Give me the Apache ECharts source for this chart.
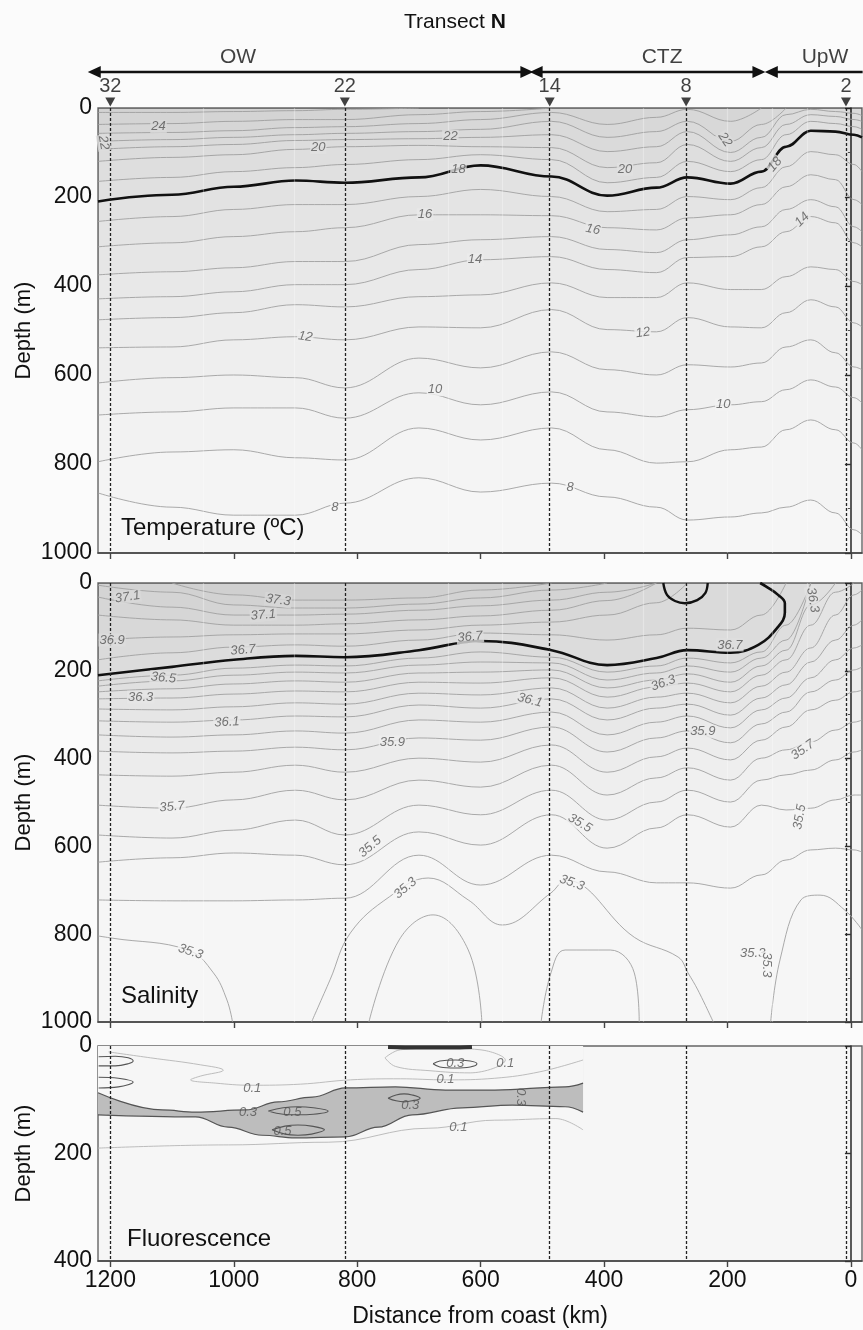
<!DOCTYPE html>
<html>
<head>
<meta charset="utf-8">
<title>Transect N</title>
<script src="https://cdn.jsdelivr.net/npm/echarts@6/dist/echarts.min.js"></script>
<style>
  html, body { margin: 0; padding: 0; background: #fbfbfb; }
  #chart { width: 863px; height: 1330px; }
</style>
</head>
<body>
<div id="chart"></div>
<script>
// ---- shared x columns (distance from coast, km) ----
const distKm = [1220, 1100, 1000, 900, 820, 700, 600, 485, 395, 315, 265, 195, 145, 105, 65, 25, -5, -18];
const distTicks = [0, 200, 400, 600, 800, 1000, 1200];

// stations, intermediate casts and water-mass zones along the transect
const stationKm = [1200, 820, 488, 267, 8];
const stationName = ['32', '22', '14', '8', '2'];
const castKm = [1049, 902, 653, 565, 337, 201, 128, 70];
const zoneName = ['OW', 'CTZ', 'UpW'];
const zoneFrom = [1226, 510, 129];
const zoneTo = [525, 149, -19];
const zoneLabelKm = [993, 306, 42];

// ---- temperature isotherms, depth (m) at distKm ----
const t8 = [865, 897, 915, 915, 888, 831, 863, 843, 874, 897, 926, 919, 910, 897, 881, 910, 948, 959];
const t9 = [795, 773, 768, 786, 791, 719, 746, 719, 768, 798, 795, 768, 762, 723, 701, 723, 753, 768];
const t10 = [690, 683, 674, 674, 697, 640, 667, 638, 683, 694, 678, 667, 660, 633, 611, 627, 651, 663];
const t11 = [618, 606, 600, 606, 629, 562, 584, 548, 588, 600, 577, 582, 573, 537, 521, 550, 582, 588];
const t12 = [539, 537, 521, 514, 521, 492, 494, 453, 498, 503, 471, 492, 494, 460, 431, 447, 483, 492];
const t13 = [476, 471, 460, 442, 447, 424, 420, 393, 426, 426, 393, 408, 408, 379, 357, 363, 390, 397];
const t14 = [429, 424, 413, 397, 397, 363, 341, 334, 363, 370, 336, 334, 312, 278, 244, 258, 303, 312];
const t15 = [375, 368, 359, 345, 345, 307, 296, 289, 318, 325, 296, 285, 267, 228, 206, 222, 267, 278];
const t16 = [312, 303, 289, 278, 269, 240, 240, 242, 269, 274, 247, 240, 217, 177, 150, 161, 206, 217];
const t17 = [255, 244, 228, 217, 217, 199, 183, 199, 233, 228, 199, 206, 179, 132, 98, 105, 127, 143];
const t18 = [210, 195, 177, 163, 168, 156, 129, 154, 197, 179, 156, 170, 143, 87, 51, 53, 60, 66];
const t19 = [165, 156, 143, 134, 127, 116, 105, 116, 168, 156, 120, 143, 116, 60, 30, 35, 42, 48];
const t20 = [120, 111, 105, 93, 87, 84, 87, 89, 134, 123, 82, 120, 89, 37, 15, 19, 26, 30];
const t21 = [93, 87, 82, 73, 71, 69, 66, 60, 98, 87, 53, 100, 66, 15, 3, 8, 12, 17];
const t22 = [75, 71, 66, 60, 57, 53, 48, 30, 66, 53, 30, 75, 37, 0];
const t23 = [57, 55, 51, 44, 42, 35, 26, 10, 37, 21, 3, 30, 0];
const t24 = [37, 35, 30, 26, 26, 15, 8, 0];
const t25 = [10, 10, 8, 6, 3, 0];

const tempLabelKm = [1122, 1211, 863, 649, 636, 366, 204, 123, 690, 418, 609, 79, 884, 337, 674, 207, 836, 455];
const tempLabelDepth = [42, 78, 89, 64, 138, 138, 71, 127, 240, 273, 341, 251, 514, 505, 633, 667, 897, 852];
const tempLabelText = ['24', '22', '20', '22', '18', '20', '22', '18', '16', '16', '14', '14', '12', '12', '10', '10', '8', '8'];
const tempLabelRot = [0, -80, 0, 0, 0, 0, -55, 50, 0, -12, 0, 45, -8, 8, 0, 0, 0, 0];

// ---- salinity isohalines, depth (m) at distKm ----
const s354 = [722, 724, 724, 722, 718, 620, 688, 620, 658, 683, 683, 695, 665, 631, 608, 604, 608, 613];
const s355 = [636, 626, 615, 620, 642, 567, 597, 528, 604, 558, 528, 556, 506, 517, 513, 494, 483, 483];
const s356 = [574, 581, 563, 540, 574, 506, 528, 472, 540, 499, 472, 499, 449, 437, 426, 403, 385, 380];
const s357 = [506, 513, 494, 472, 494, 449, 465, 415, 483, 444, 421, 449, 399, 380, 362, 335, 317, 312];
const s358 = [437, 440, 431, 415, 431, 399, 408, 369, 431, 396, 376, 403, 358, 328, 289, 267, 248, 244];
const s359 = [383, 387, 383, 374, 380, 353, 358, 328, 385, 353, 337, 364, 321, 294, 248, 221, 198, 191];
const s360 = [346, 351, 346, 337, 342, 312, 317, 294, 346, 317, 303, 330, 289, 262, 216, 175, 148, 141];
const s361 = [314, 317, 312, 303, 305, 278, 285, 264, 312, 285, 276, 301, 262, 232, 180, 130, 96, 84];
const s362 = [287, 289, 282, 273, 276, 251, 255, 239, 285, 260, 251, 273, 235, 203, 148, 73, 27, 16];
const s363 = [264, 262, 253, 246, 248, 226, 228, 216, 260, 237, 228, 248, 210, 175, 96, 21, 0];
const s364 = [248, 241, 230, 223, 226, 205, 203, 198, 239, 221, 207, 226, 189, 153, 50, 0];
const s365 = [235, 223, 210, 203, 205, 187, 180, 182, 221, 205, 189, 203, 171, 130, 0];
const s366 = [223, 210, 194, 187, 189, 171, 157, 169, 203, 189, 171, 182, 157, 96, 0];
const s368 = [175, 159, 146, 141, 144, 130, 114, 118, 130, 118, 103, 107, 73, 0];
const s369 = [130, 123, 118, 116, 116, 107, 96, 89, 73, 45, 0];
const s370 = [73, 84, 96, 96, 93, 84, 75, 62, 40, 0];
const s371 = [32, 55, 73, 73, 71, 62, 52, 39, 21, 0];
const s372 = [5, 21, 50, 57, 57, 48, 34, 16, 0];
const s373 = [null, 0, 27, 39, 39, 34, 16, 0];

// 36.7 front (with its hook in the upwelling zone) and the small surface ring
const salFrontKm = [1220, 1100, 1000, 900, 820, 700, 600, 485, 395, 315, 265, 195, 150, 118, 107, 107, 118, 134, 147];
const salFrontDepth = [210, 191, 175, 166, 169, 153, 132, 153, 187, 171, 153, 159, 141, 100, 68, 46, 27, 11, 0];
const ringKm = [304, 298, 285, 269, 249, 236, 232];
const ringDepth = [0, 27, 41, 46, 39, 23, 0];

// deep 35.3 / 35.2 pieces
const s353aKm = [1220, 1197, 1074, 1033, 1011, 1002];
const s353aDepth = [804, 809, 836, 888, 950, 1000];
const s353bKm = [874, 844, 811, 748, 685, 620, 565, 486, 462, 351, 280, 264, 248, 223];
const s353bDepth = [1000, 904, 797, 715, 672, 722, 779, 706, 677, 807, 852, 888, 927, 1000];
const s353cKm = [130, 115, 81, 50, 10, -18];
const s353cDepth = [1000, 859, 722, 711, 745, 790];
const s352aKm = [781, 732, 677, 620, 598];
const s352aDepth = [1000, 813, 756, 836, 1000];
const s352bKm = [502, 486, 463, 390, 351, 343];
const s352bDepth = [1000, 888, 836, 836, 888, 1000];

const salLabelKm = [1172, 928, 952, 1197, 985, 1114, 1151, 1011, 743, 1100, 779, 722, 1070, 617, 520, 304, 240, 78, 439, 83, 452, 196, 62, 159, 136];
const salLabelDepth = [32, 39, 73, 130, 153, 216, 260, 317, 362, 510, 601, 695, 840, 123, 267, 228, 339, 380, 547, 533, 683, 141, 39, 843, 870];
const salLabelText = ['37.1', '37.3', '37.1', '36.9', '36.7', '36.5', '36.3', '36.1', '35.9', '35.7', '35.5', '35.3', '35.3', '36.7', '36.1', '36.3', '35.9', '35.7', '35.5', '35.5', '35.3', '36.7', '36.3', '35.3', '35.3'];
const salLabelRot = [8, -8, 5, 0, 5, -5, 0, 3, 0, 5, 40, 40, -18, 5, -15, 20, 0, 35, -30, 80, -20, 0, -80, 0, -90];

// ---- fluorescence ----
const fl03TopKm = [1220, 1116, 1062, 981, 928, 873, 819, 738, 657, 577, 463, 434];
const fl03TopDepth = [87, 119, 123, 119, 104, 95, 78, 76, 82, 82, 76, 69];
const fl03BotKm = [1220, 1062, 1009, 954, 900, 819, 766, 711, 630, 549, 463, 434];
const fl03BotDepth = [128, 132, 151, 166, 171, 169, 151, 128, 115, 110, 113, 123];
const fl01LowKm = [1220, 1009, 847, 685, 577, 478, 434];
const fl01LowDepth = [190, 184, 179, 153, 138, 135, 156];
const fl01UpKm = [1203, 1135, 1054, 1017, 1054, 1070, 1030, 973, 892, 811, 730, 657, 577, 504, 434];
const fl01UpDepth = [11, 22, 35, 45, 56, 63, 69, 73, 71, 63, 61, 63, 60, 48, 26];
const fl01LoopKm = [755, 730, 666, 601, 560, 617, 682, 738, 755];
const fl01LoopDepth = [22, 7, 4, 7, 26, 50, 46, 38, 22];
const fl03LoopAKm = [677, 666, 641, 617, 606, 617, 641, 666, 677];
const fl03LoopADepth = [33, 28, 26, 28, 33, 39, 41, 39, 33];
const fl03LoopBKm = [750, 737, 724, 711, 698, 711, 724, 737, 750];
const fl03LoopBDepth = [97, 91, 89, 91, 97, 102, 104, 102, 97];
const fl03EdgeAKm = [1219, 1192, 1171, 1163, 1171, 1192, 1219];
const fl03EdgeADepth = [20, 19, 22, 28, 33, 37, 37];
const fl03EdgeBKm = [1219, 1187, 1163, 1187, 1219];
const fl03EdgeBDepth = [58, 60, 67, 76, 78];
const fl05LoopAKm = [944, 920, 896, 871, 847, 871, 896, 920, 944];
const fl05LoopADepth = [121, 115, 113, 115, 121, 127, 128, 127, 121];
const fl05LoopBKm = [938, 917, 896, 874, 853, 874, 896, 917, 938];
const fl05LoopBDepth = [156, 149, 147, 149, 156, 164, 166, 164, 156];
const flSurfaceKm = [750, 700, 650, 614];
const flSurfaceDepth = [2, 3, 3, 2];

const fluoLabelKm = [970, 657, 560, 636, 977, 714, 641, 536, 905, 921];
const fluoLabelDepth = [78, 63, 32, 151, 123, 110, 33, 95, 123, 158];
const fluoLabelText = ['0.1', '0.1', '0.1', '0.1', '0.3', '0.3', '0.3', '0.3', '0.5', '0.5'];
const fluoLabelRot = [0, 0, 0, 0, 0, 0, 0, -90, 0, 0];

// ---------------------------------------------------------------
const FONT = "'Liberation Sans', Arial, sans-serif";
const BG_LEVEL = 246;
const BG = 'rgb(246,246,246)';
const ISO = '#a0a0a0';
const SHADE_ALPHA = 0.0075;
const SHADE = { color: '#000', opacity: SHADE_ALPHA, origin: 'start' };

const tempSet = [t8, t9, t10, t11, t12, t13, t14, t15, t16, t17, t18, t19, t20, t21, t22, t23, t24, t25];
const salSet = [s354, s355, s356, s357, s358, s359, s360, s361, s362, s363, s364, s365, s366, s368, s369, s370, s371, s372, s373];

function pairs(km, depth) {
  const out = [];
  for (let i = 0; i < depth.length; i++) {
    if (depth[i] == null) continue;
    out.push([km[i], depth[i]]);
  }
  return out;
}

// depth of a contour (given on distKm) at an arbitrary distance, or null outside its span
function depthAt(arr, km) {
  for (let i = 0; i < arr.length - 1; i++) {
    const a = distKm[i], b = distKm[i + 1];
    if (arr[i] == null || arr[i + 1] == null) continue;
    if (km <= a && km >= b) {
      const f = (a - km) / (a - b);
      return arr[i] + f * (arr[i + 1] - arr[i]);
    }
  }
  return null;
}

// local background grey under a label, so the label cuts its line like the original
function shadeUnder(set, km, depth) {
  let n = 0;
  if (set) {
    set.forEach(arr => {
      const d = depthAt(arr, km);
      if (d != null && d > depth + 4) n++;
    });
  }
  const g = Math.round(BG_LEVEL * Math.pow(1 - SHADE_ALPHA, n));
  return 'rgb(' + g + ',' + g + ',' + g + ')';
}

function contour(grid, km, depth, opts) {
  opts = opts || {};
  const s = {
    type: 'line',
    xAxisIndex: grid,
    yAxisIndex: grid,
    data: pairs(km, depth),
    smooth: opts.smooth == null ? 0.4 : opts.smooth,
    symbol: 'none',
    silent: true,
    lineStyle: { color: opts.color || ISO, width: opts.width || 0.9 },
    z: opts.z || 2
  };
  if (!opts.loop) s.smoothMonotone = 'x';
  if (opts.area) s.areaStyle = opts.area;
  return s;
}

function labelSeries(grid, km, depth, text, rot, set, fixedBg) {
  return {
    type: 'scatter',
    xAxisIndex: grid,
    yAxisIndex: grid,
    symbolSize: 0,
    silent: true,
    z: 6,
    data: km.map((k, i) => ({
      value: [k, depth[i]],
      name: text[i],
      label: { rotate: rot[i], backgroundColor: fixedBg || shadeUnder(set, k, depth[i]) }
    })),
    label: {
      show: true,
      position: 'inside',
      formatter: '{b}',
      fontSize: 13,
      fontStyle: 'italic',
      color: '#555',
      padding: [0, 1],
      fontFamily: FONT
    }
  };
}

function verticalMarks(grid, kms, style, z) {
  return {
    type: 'line',
    xAxisIndex: grid,
    yAxisIndex: grid,
    data: [],
    silent: true,
    z: z,
    markLine: {
      silent: true,
      symbol: 'none',
      animation: false,
      label: { show: false },
      lineStyle: style,
      data: kms.map(k => ({ xAxis: k }))
    }
  };
}

const stationStyle = { color: '#222', type: [3, 2], width: 1.3 };
const castStyle = { color: 'rgba(255,255,255,0.3)', type: 'solid', width: 1.2 };

const series = [];

// temperature panel
[t8, t9, t10, t11, t12, t13, t14, t15, t16, t17, t19, t20, t21, t22, t23, t24, t25].forEach(d => {
  series.push(contour(0, distKm, d, { area: SHADE }));
});
series.push(contour(0, distKm, t18, { area: SHADE, color: '#111', width: 2.6, z: 3 }));
series.push(verticalMarks(0, castKm, castStyle, 1));
series.push(labelSeries(0, tempLabelKm, tempLabelDepth, tempLabelText, tempLabelRot, tempSet));
series.push(verticalMarks(0, stationKm, stationStyle, 7));

// salinity panel
salSet.forEach(d => {
  series.push(contour(1, distKm, d, { area: SHADE }));
});
[[s353aKm, s353aDepth], [s353bKm, s353bDepth], [s353cKm, s353cDepth], [s352aKm, s352aDepth], [s352bKm, s352bDepth]].forEach(p => {
  series.push(contour(1, p[0], p[1], { loop: true }));
});
series.push(contour(1, salFrontKm, salFrontDepth, { color: '#111', width: 2.6, z: 3, loop: true }));
series.push(contour(1, ringKm, ringDepth, { color: '#111', width: 2.4, z: 3, loop: true }));
series.push(verticalMarks(1, castKm, castStyle, 1));
series.push(labelSeries(1, salLabelKm, salLabelDepth, salLabelText, salLabelRot, salSet));
series.push(verticalMarks(1, stationKm, stationStyle, 7));

// fluorescence panel
series.push(contour(2, fl03BotKm, fl03BotDepth, { area: { color: '#bdbdbd', opacity: 1, origin: 'start' }, color: '#555', width: 1.2 }));
series.push(contour(2, fl03TopKm, fl03TopDepth, { area: { color: BG, opacity: 1, origin: 'start' }, color: '#555', width: 1.2, z: 3 }));
series.push(contour(2, fl01LowKm, fl01LowDepth, { color: '#b5b5b5', z: 4 }));
series.push(contour(2, fl01UpKm, fl01UpDepth, { color: '#b5b5b5', z: 4, loop: true }));
series.push(contour(2, fl01LoopKm, fl01LoopDepth, { color: '#b5b5b5', z: 4, loop: true }));
[[fl03LoopAKm, fl03LoopADepth], [fl03LoopBKm, fl03LoopBDepth], [fl03EdgeAKm, fl03EdgeADepth], [fl03EdgeBKm, fl03EdgeBDepth],
 [fl05LoopAKm, fl05LoopADepth], [fl05LoopBKm, fl05LoopBDepth]].forEach(p => {
  series.push(contour(2, p[0], p[1], { color: '#555', width: 1.1, z: 4, loop: true }));
});
series.push(contour(2, flSurfaceKm, flSurfaceDepth, { color: '#333', width: 4, z: 4 }));
series.push(labelSeries(2, fluoLabelKm, fluoLabelDepth, fluoLabelText, fluoLabelRot, null, 'rgba(0,0,0,0)'));
series.push(verticalMarks(2, stationKm, stationStyle, 7));

// header: zone arrows, zone names, station markers
series.push({
  type: 'line',
  xAxisIndex: 3,
  yAxisIndex: 3,
  data: [],
  silent: true,
  markLine: {
    silent: true,
    animation: false,
    symbolSize: [12, 13],
    label: { show: false },
    lineStyle: { color: '#111', width: 2.4, type: 'solid' },
    data: zoneName.map((n, i) => [
      { coord: [zoneFrom[i], 32], symbol: 'triangle' },
      { coord: [zoneTo[i], 32], symbol: i === 2 ? 'none' : 'triangle' }
    ])
  }
});
series.push({
  type: 'scatter',
  xAxisIndex: 3,
  yAxisIndex: 3,
  symbolSize: 0,
  silent: true,
  data: zoneName.map((n, i) => ({ value: [zoneLabelKm[i], 17], name: n })),
  label: { show: true, position: 'inside', formatter: '{b}', fontSize: 21, color: '#111', fontFamily: FONT }
});
series.push({
  type: 'scatter',
  xAxisIndex: 3,
  yAxisIndex: 3,
  symbol: 'triangle',
  symbolRotate: 180,
  symbolSize: [10, 9],
  itemStyle: { color: '#111' },
  silent: true,
  data: stationKm.map((k, i) => ({ value: [k, 62], name: stationName[i] })),
  label: { show: true, position: 'top', distance: 1, formatter: '{b}', fontSize: 20, color: '#111', fontFamily: FONT }
});

const panelTop = [108, 583, 1046];
const panelHeight = [445, 439, 215];
const panelMax = [1000, 1000, 400];
const plain = v => String(v);

const option = {
  animation: false,
  backgroundColor: '#fbfbfb',
  title: [
    {
      text: '{a|Transect }{b|N}',
      left: 404,
      top: 12,
      padding: 0,
      textStyle: {
        fontWeight: 'normal',
        rich: {
          a: { fontSize: 21, color: '#111', fontWeight: 'normal', fontFamily: FONT },
          b: { fontSize: 21, color: '#111', fontWeight: 'bold', fontFamily: FONT }
        }
      }
    },
    { text: 'Temperature (ºC)', left: 121, top: 516, padding: 0, textStyle: { fontSize: 24, fontWeight: 'normal', color: '#111', fontFamily: FONT } },
    { text: 'Salinity', left: 121, top: 984, padding: 0, textStyle: { fontSize: 24, fontWeight: 'normal', color: '#111', fontFamily: FONT } },
    { text: 'Fluorescence', left: 127, top: 1227, padding: 0, textStyle: { fontSize: 24, fontWeight: 'normal', color: '#111', fontFamily: FONT } }
  ],
  grid: [0, 1, 2].map(i => ({
    left: 98,
    right: 1,
    top: panelTop[i],
    height: panelHeight[i],
    show: true,
    containLabel: false,
    outerBoundsMode: 'none',
    backgroundColor: BG,
    borderColor: '#666',
    borderWidth: 1.4
  })).concat([{ left: 85, right: 0, top: 40, height: 66, outerBoundsMode: 'none' }]),
  xAxis: [0, 1, 2].map(i => ({
    type: 'value',
    gridIndex: i,
    min: -18,
    max: 1220,
    inverse: true,
    axisLine: { show: true, onZero: false, lineStyle: { color: '#444', width: 1.5 } },
    axisTick: { show: true, length: 6, customValues: distTicks, lineStyle: { color: '#444', width: 1.4 } },
    axisLabel: { show: i === 2, customValues: distTicks, formatter: plain, fontSize: 23, color: '#111', fontFamily: FONT, margin: 8 },
    splitLine: { show: false },
    name: i === 2 ? 'Distance from coast (km)' : '',
    nameLocation: 'middle',
    nameGap: 44,
    nameMoveOverlap: false,
    nameTextStyle: { fontSize: 23, color: '#111', fontFamily: FONT }
  })).concat([{ type: 'value', gridIndex: 3, min: -19.6, max: 1241, inverse: true, show: false }]),
  yAxis: [0, 1, 2].map(i => ({
    type: 'value',
    gridIndex: i,
    min: 0,
    max: panelMax[i],
    interval: 200,
    inverse: true,
    axisLine: { show: true, lineStyle: { color: '#333', width: 1.6 } },
    axisTick: { show: true, length: 6, lineStyle: { color: '#333', width: 1.4 } },
    minorTick: { show: true, splitNumber: 2, length: 3, lineStyle: { color: '#555' } },
    axisLabel: { formatter: plain, fontSize: 23, color: '#111', fontFamily: FONT, margin: 6 },
    splitLine: { show: false },
    name: 'Depth (m)',
    nameLocation: 'middle',
    nameGap: 63,
    nameMoveOverlap: false,
    nameTextStyle: { fontSize: 22, color: '#111', fontFamily: FONT }
  })).concat([{ type: 'value', gridIndex: 3, min: 0, max: 66, inverse: true, show: false }]),
  series: series
};

const chart = echarts.init(document.getElementById('chart'));
chart.setOption(option);
</script>
</body>
</html>
